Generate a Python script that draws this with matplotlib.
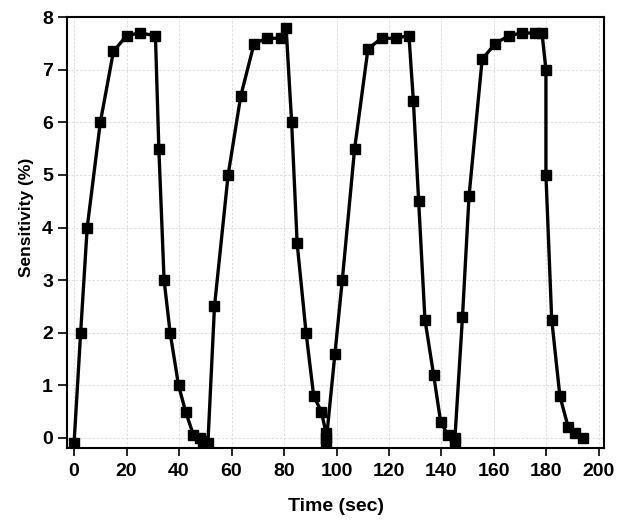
import matplotlib
matplotlib.use("Agg")
import matplotlib.pyplot as plt

time_sec = [0, 2.5, 5, 10, 15, 20, 25, 31, 32.3, 34.3, 36.6, 39.8, 42.5, 45.5, 48, 49, 51,
            53.5, 58.7, 63.5, 68.6, 73.6, 78.7, 80.8, 82.9, 85, 88.4, 91.3, 94.2, 96, 96, 96,
            99.4, 102.2, 106.9, 112, 117.2, 122.5, 127.6, 129.3, 131.3, 133.7, 137, 139.7, 142.5, 145, 145,
            148, 150.5, 155.5, 160.5, 165.7, 170.5, 175.5, 178.3, 179.8, 179.8, 182, 185.1, 188.3, 190.9, 194]
sensitivity = [-0.1, 2, 4, 6, 7.35, 7.65, 7.7, 7.65, 5.5, 3, 2, 1, 0.5, 0.05, 0, -0.05, -0.1,
               2.5, 5, 6.5, 7.5, 7.6, 7.6, 7.8, 6, 3.7, 2, 0.8, 0.5, 0.1, 0, -0.1,
               1.6, 3, 5.5, 7.4, 7.6, 7.6, 7.65, 6.4, 4.5, 2.25, 1.2, 0.3, 0.05, 0, -0.1,
               2.3, 4.6, 7.2, 7.5, 7.65, 7.7, 7.7, 7.7, 7.0, 5.0, 2.25, 0.8, 0.2, 0.1, 0.0]
x_ticks = [0, 20, 40, 60, 80, 100, 120, 140, 160, 180, 200]
y_ticks = [0, 1, 2, 3, 4, 5, 6, 7, 8]

plt.rcParams['font.family'] = ['Liberation Sans', 'DejaVu Sans']

fig = plt.figure(figsize=(6.32, 5.22), dpi=100)
ax = fig.add_axes([0.106, 0.142, 0.850, 0.825])

ax.plot(time_sec, sensitivity, color='black', linewidth=2.4, marker='s',
        markersize=6.5, markerfacecolor='black', markeredgecolor='black', zorder=3)

ax.set_xlim(-2.7, 202)
ax.set_ylim(-0.19, 8.0)
ax.set_xticks(x_ticks)
ax.set_yticks(y_ticks)
ax.grid(True, color='#d9d9d9', linestyle='--', linewidth=0.6, dashes=(3, 2))
ax.set_axisbelow(True)

for s in ax.spines.values():
    s.set_linewidth(1.5)
ax.tick_params(axis='y', direction='out', length=6.5, width=1.2, labelsize=14, pad=3.5)
ax.tick_params(axis='x', direction='out', length=6, width=1.2, labelsize=14, pad=5)
for lbl in ax.get_xticklabels() + ax.get_yticklabels():
    lbl.set_fontweight('bold')

ax.set_xlabel('Time (sec)', fontsize=14, fontweight='bold', labelpad=13)
ax.set_ylabel('Sensitivity (%)', fontsize=12.5, fontweight='bold')
ax.yaxis.set_label_coords(-0.062, 0.535)

fig.savefig('out.png', dpi=100)
